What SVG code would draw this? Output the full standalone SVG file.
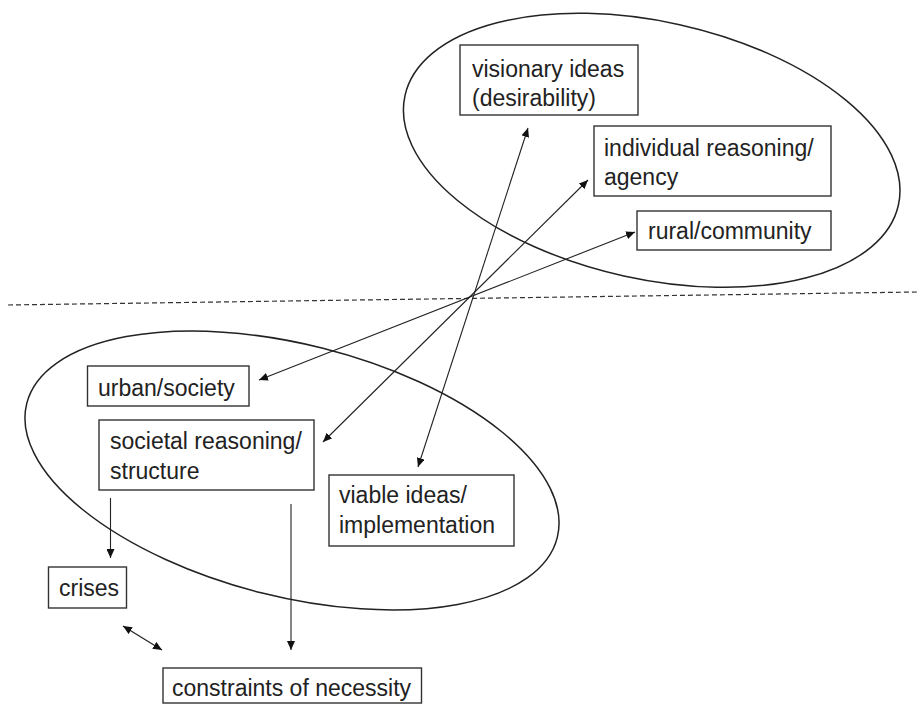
<svg xmlns="http://www.w3.org/2000/svg" width="918" height="704" viewBox="0 0 918 704">
<style>
.box{fill:#fff;stroke:#333;stroke-width:1.4}
.lbl{font-family:"Liberation Sans",Arial,sans-serif;font-size:23px;fill:#222}
.ell{fill:none;stroke:#222;stroke-width:1.5}
.con{stroke:#222;stroke-width:1.1;fill:none}
.dash{stroke:#333;stroke-width:1.2;stroke-dasharray:5 3;fill:none}
</style>
<defs>
<marker id="ah" markerUnits="userSpaceOnUse" markerWidth="10" markerHeight="8" refX="9" refY="4" orient="auto-start-reverse">
<path d="M0,0 L9,4 L0,8 z" fill="#111"/>
</marker>
</defs>
<rect width="918" height="704" fill="#fff"/>
<g id="groups">
<ellipse class="ell" cx="651.7" cy="150.3" rx="252.7" ry="128.7" transform="rotate(12.5 651.7 150.3)"/>
<ellipse class="ell" cx="292" cy="470.5" rx="273.6" ry="126.1" transform="rotate(14.2 292 470.5)"/>
<line class="dash" x1="8" y1="305" x2="918" y2="292"/>
</g>
<g id="connectors">
<line class="con" x1="528" y1="128" x2="418" y2="467" marker-start="url(#ah)" marker-end="url(#ah)"/>
<line class="con" x1="588" y1="180" x2="323" y2="442" marker-start="url(#ah)" marker-end="url(#ah)"/>
<line class="con" x1="635" y1="232" x2="259" y2="380" marker-start="url(#ah)" marker-end="url(#ah)"/>
<line class="con" x1="110.5" y1="498" x2="110.5" y2="558" marker-end="url(#ah)"/>
<line class="con" x1="291" y1="504" x2="291" y2="650" marker-end="url(#ah)"/>
<line class="con" x1="123" y1="626" x2="162" y2="650" marker-start="url(#ah)" marker-end="url(#ah)"/>
</g>
<g id="visionary">
<rect class="box" x="460" y="45" width="178" height="70"/>
<text class="lbl" x="472" y="77">visionary ideas</text>
<text class="lbl" x="472" y="106">(desirability)</text>
</g>
<g id="individual">
<rect class="box" x="594" y="126" width="237" height="70"/>
<text class="lbl" x="604" y="156">individual reasoning/</text>
<text class="lbl" x="604" y="185">agency</text>
</g>
<g id="rural">
<rect class="box" x="637" y="211" width="194" height="39"/>
<text class="lbl" x="648" y="239">rural/community</text>
</g>
<g id="urban">
<rect class="box" x="87.5" y="366" width="161.5" height="40"/>
<text class="lbl" x="98" y="396">urban/society</text>
</g>
<g id="societal">
<rect class="box" x="99" y="420" width="215" height="70"/>
<text class="lbl" x="110" y="449">societal reasoning/</text>
<text class="lbl" x="110" y="479">structure</text>
</g>
<g id="viable">
<rect class="box" x="329" y="475" width="185" height="71"/>
<text class="lbl" x="339" y="503">viable ideas/</text>
<text class="lbl" x="339" y="533">implementation</text>
</g>
<g id="crises">
<rect class="box" x="48.5" y="567" width="78" height="41"/>
<text class="lbl" x="59" y="596">crises</text>
</g>
<g id="constraints">
<rect class="box" x="163" y="668" width="258.5" height="35"/>
<text class="lbl" x="172" y="696">constraints of necessity</text>
</g>
</svg>
